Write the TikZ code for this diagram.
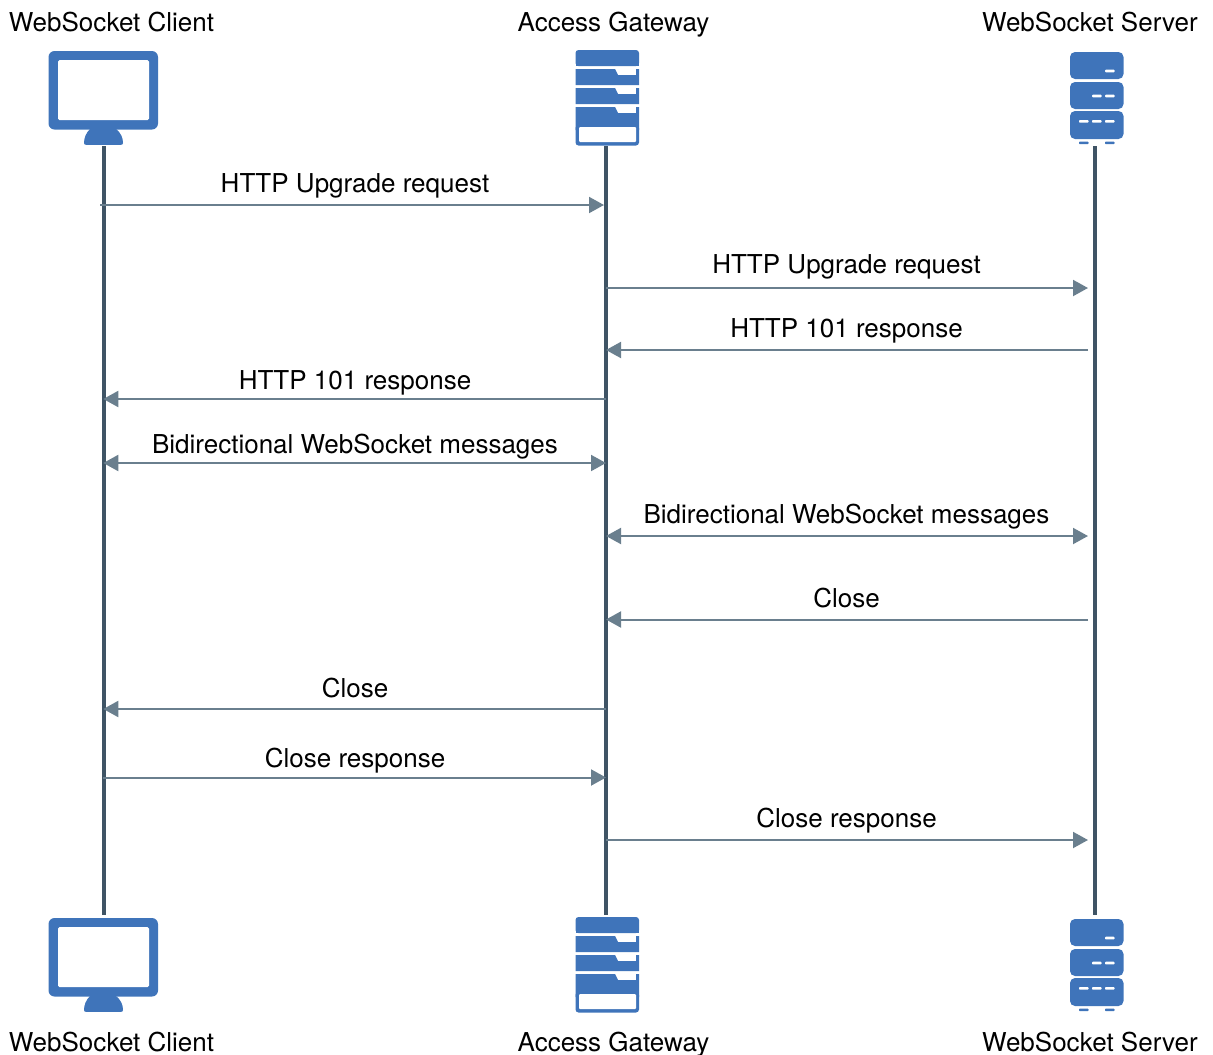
\documentclass[tikz,border=0pt]{standalone}
\usepackage{fontspec}
\setmainfont{TeX Gyre Heros}
\usetikzlibrary{arrows.meta}
\definecolor{iconblue}{HTML}{3F74BA}
\definecolor{lifecol}{HTML}{3F5465}
\definecolor{msgcol}{HTML}{6A7F8E}
\tikzset{
  lifeline/.style={draw=lifecol,line width=4bp},
  msg/.style={draw=msgcol,line width=2bp,-{Triangle[length=15bp,width=16bp]}},
  msgboth/.style={draw=msgcol,line width=2bp,{Triangle[length=15bp,width=16bp]}-{Triangle[length=15bp,width=16bp]}},
  lbl/.style={anchor=base,inner sep=0pt,font=\fontsize{26bp}{30bp}\selectfont,text=black},
  pics/monitor/.style={code={
    \fill[iconblue,even odd rule,rounded corners=6bp] (48.5,51) rectangle (158,129.5);
    \fill[white,rounded corners=1.5bp] (58,60) rectangle (149,120);
    \fill[iconblue] (90,129) .. controls (86,133) and (84,138) .. (84,143)
      .. controls (84,144.5) and (85,144.8) .. (86,144.8) -- (121,144.8)
      .. controls (122,144.8) and (123,144.5) .. (123,143)
      .. controls (123,138) and (121,133) .. (116,129) -- cycle;
  }},
  pics/gateway/.style={code={
    \fill[iconblue,rounded corners=3bp] (575.5,66) -- (575.5,50) -- (639,50) -- (639,66) -- cycle;
    \fill[iconblue] (575.5,66) rectangle (639,60);
    \foreach \yy in {69,88}{
      \fill[iconblue] (575.5,\yy) -- (615,\yy) -- (618,\yy+6) -- (636,\yy+6) -- (636,\yy) -- (639,\yy)
        -- (639,\yy+16) -- (575.5,\yy+16) -- cycle;
    }
    \fill[iconblue] (575.5,107) -- (615,107) -- (618,113) -- (636,113) -- (636,107) -- (639,107)
        -- (639,130) -- (575.5,130) -- cycle;
    \fill[iconblue,rounded corners=3bp] (575.5,125) rectangle (639,145.5);
    \fill[white,rounded corners=1bp] (579,127) rectangle (636,142);
  }},
  pics/server/.style={code={
    \foreach \yy/\hh in {52/27,82/27,111/28}{
      \fill[iconblue,rounded corners=5bp] (1070,\yy) rectangle (1123.5,\yy+\hh);
    }
    \fill[white,rounded corners=.8bp] (1105,69.7) rectangle (1114.5,72.3);
    \fill[white,rounded corners=.8bp] (1092,94.7) rectangle (1101.5,97.3);
    \fill[white,rounded corners=.8bp] (1105,94.7) rectangle (1114.5,97.3);
    \fill[white,rounded corners=.8bp] (1079,120) rectangle (1088.5,122.6);
    \fill[white,rounded corners=.8bp] (1092,120) rectangle (1101.5,122.6);
    \fill[white,rounded corners=.8bp] (1105,120) rectangle (1114.5,122.6);
    \fill[iconblue,rounded corners=.8bp] (1079,141.5) rectangle (1088.5,144.2);
    \fill[iconblue,rounded corners=.8bp] (1105,141.5) rectangle (1114.5,144.2);
  }},
}
\begin{document}
\begin{tikzpicture}[x=1bp,y=-1bp]
\useasboundingbox (0,0) rectangle (1213,1055);
% participants
\node[lbl] (clientT) at (111.5,31) {WebSocket Client};
\node[lbl] (gateT) at (613.5,31) {Access Gateway};
\node[lbl] (serverT) at (1090,31) {WebSocket Server};
\node[lbl] (clientB) at (111.5,1051) {WebSocket Client};
\node[lbl] (gateB) at (613.5,1051) {Access Gateway};
\node[lbl] (serverB) at (1090,1051) {WebSocket Server};
\pic at (0,0) {monitor};
\pic at (0,867) {monitor};
\pic at (0,0) {gateway};
\pic at (0,867) {gateway};
\pic at (0,0) {server};
\pic at (0,867) {server};
% lifelines
\coordinate (ct) at (103.5,146);
\coordinate (cb) at (103.5,915);
\coordinate (gt) at (605.5,146);
\coordinate (gb) at (605.5,915);
\coordinate (st) at (1094.5,146);
\coordinate (sb) at (1094.5,915);
\draw[lifeline] (ct) -- (cb);
\draw[lifeline] (gt) -- (gb);
\draw[lifeline] (st) -- (sb);
% message ends
\foreach \n/\yy in {1/205,2/288,3/350,4/399,5/463,6/536,7/619.5,8/709,9/777.5,10/840}{
  \coordinate (c\n) at (103.3,\yy);
  \coordinate (g\n) at (606,\yy);
  \coordinate (gl\n) at (604,\yy);
  \coordinate (s\n) at (1088,\yy);
}
\coordinate (c1s) at (100,205);
% messages
\draw[msg] (c1s) -- (gl1);
\draw[msg] (g2) -- (s2);
\draw[msg] (s3) -- (g3);
\draw[msg] (g4) -- (c4);
\draw[msgboth] (c5) -- (g5);
\draw[msgboth] (g6) -- (s6);
\draw[msg] (s7) -- (g7);
\draw[msg] (g8) -- (c8);
\draw[msg] (c9) -- (g9);
\draw[msg] (g10) -- (s10);
% labels
\node[lbl] (m1) at (355,192) {HTTP Upgrade request};
\node[lbl] (m2) at (846.5,273) {HTTP Upgrade request};
\node[lbl] (m3) at (846.5,337) {HTTP 101 response};
\node[lbl] (m4) at (355,389) {HTTP 101 response};
\node[lbl] (m5) at (355,453) {Bidirectional WebSocket messages};
\node[lbl] (m6) at (846.5,523) {Bidirectional WebSocket messages};
\node[lbl] (m7) at (846.5,607) {Close};
\node[lbl] (m8) at (355,697) {Close};
\node[lbl] (m9) at (355,767) {Close response};
\node[lbl] (m10) at (846.5,827) {Close response};
\end{tikzpicture}
\end{document}
